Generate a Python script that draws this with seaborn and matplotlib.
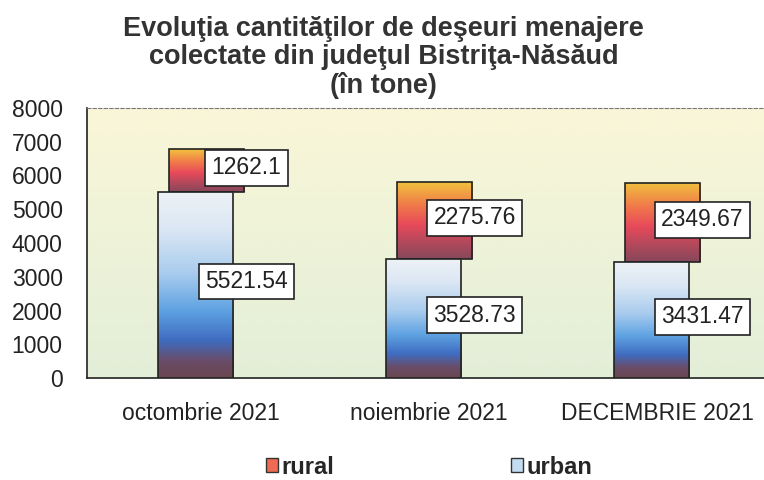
import numpy as np
import pandas as pd
import seaborn as sns
import matplotlib.pyplot as plt
from matplotlib.colors import LinearSegmentedColormap
from matplotlib.patches import Patch

months = ['octombrie 2021', 'noiembrie 2021', 'DECEMBRIE 2021']
urban = [5521.54, 3528.73, 3431.47]
rural = [1262.1, 2275.76, 2349.67]
rural_labels = ['1262.1', '2275.76', '2349.67']
urban_labels = ['5521.54', '3528.73', '3431.47']
yticks = [0, 1000, 2000, 3000, 4000, 5000, 6000, 7000, 8000]

df = pd.DataFrame({'luna': months, 'urban': urban, 'rural': rural})
df['total'] = df['urban'] + df['rural']

sns.set_style('white')
plt.rcParams['font.family'] = ['Liberation Sans', 'DejaVu Sans']

# gradient maps, bottom -> top
cmap_urban = LinearSegmentedColormap.from_list('urban', [
    (0.0, '#6a4650'), (0.09, '#6a4c68'), (0.2, '#3f6cc0'), (0.36, '#5ea2e2'),
    (0.56, '#a9ccee'), (0.8, '#dbe7f4'), (1.0, '#eef2f6')])
cmap_rural = LinearSegmentedColormap.from_list('rural', [
    (0.0, '#86485a'), (0.2, '#b0485c'), (0.45, '#e84a5a'), (0.7, '#f07a4a'),
    (1.0, '#f2c23e')])
cmap_bg = LinearSegmentedColormap.from_list('bg', ['#e3eed8', '#eef3d8', '#faf6d8'])

fig = plt.figure(figsize=(7.64, 4.8), dpi=100)
ax = fig.add_axes([87 / 764, 0.2125, 684 / 764, 0.5625])

bw = 0.33
shift = 0.023

# rural first (sits behind), then urban in front
sns.barplot(x=df['luna'], y=df['total'], width=bw, ax=ax, color='#e84a5a',
            edgecolor='#222222', linewidth=1.2, zorder=2)
sns.barplot(x=df['luna'], y=df['urban'], width=bw, ax=ax, color='#9cc8ee',
            edgecolor='#222222', linewidth=1.2, zorder=3)

patches = list(ax.patches)
rural_bars = patches[:3]
urban_bars = patches[3:6]

for i, p in enumerate(rural_bars):
    p.set_x(p.get_x() + shift)
    p.set_y(df['urban'][i])
    p.set_height(df['rural'][i])
for p in urban_bars:
    p.set_x(p.get_x() - shift)

grad = np.linspace(0, 1, 256).reshape(-1, 1)


def fill_gradient(p, cmap, z):
    x0, y0 = p.get_x(), p.get_y()
    im = ax.imshow(grad, cmap=cmap, aspect='auto', origin='lower',
                   extent=[x0, x0 + p.get_width(), y0, y0 + p.get_height()],
                   zorder=z - 0.1, interpolation='bicubic')
    im.set_clip_path(p)
    p.set_facecolor('none')
    p.set_zorder(z)


for p in rural_bars:
    fill_gradient(p, cmap_rural, 2)
for p in urban_bars:
    fill_gradient(p, cmap_urban, 3)

ax.imshow(grad, cmap=cmap_bg, aspect='auto', origin='lower',
          extent=[-0.5, 2.5, 0, 8000], zorder=0)
ax.set_xlim(-0.5, 2.5)
ax.set_ylim(0, 8000)

box = dict(boxstyle='square,pad=0.28', facecolor='white', edgecolor='#222222', linewidth=1.2)
for i in range(3):
    ax.text(i + 0.2, df['urban'][i] + df['rural'][i] / 2 + 80, rural_labels[i],
            ha='center', va='center', fontsize=16.5, color='#222222', bbox=box, zorder=5)
    ax.text(i + 0.2, df['urban'][i] / 2 + 100, urban_labels[i],
            ha='center', va='center', fontsize=16.5, color='#222222', bbox=box, zorder=5)

ax.set_yticks(yticks)
ax.set_yticklabels([str(v) for v in yticks], fontsize=16.5, color='#222222')
ax.set_xticks(range(3))
ax.set_xticklabels(months, fontsize=16.5, color='#222222')
ax.set_xticks([0.5, 1.5], minor=True)
ax.tick_params(axis='x', which='major', length=0, pad=17)
ax.tick_params(axis='x', which='minor', length=6, direction='out', color='#222222')
ax.tick_params(axis='y', length=6.5, direction='out', color='#222222', pad=11)
ax.set_xlabel('')
ax.set_ylabel('')

for side in ['left', 'bottom']:
    ax.spines[side].set_color('#222222')
    ax.spines[side].set_linewidth(1.2)
ax.spines['top'].set_color('#777777')
ax.spines['top'].set_linestyle((0, (3, 2)))
ax.spines['top'].set_linewidth(0.8)
ax.spines['right'].set_visible(False)

fig.text(0.502, 1 - 16 / 480,
         'Evoluţia cantităţilor de deşeuri menajere\ncolectate din judeţul Bistriţa-Năsăud\n(în tone)',
         ha='center', va='top', fontsize=19.5, fontweight='bold', color='#333333',
         linespacing=1.1)

handles = [Patch(facecolor='#ee6a52', edgecolor='#333333'),
           Patch(facecolor='#c4dcf2', edgecolor='#333333')]
fig.legend(handles, ['rural', 'urban'], loc='center', bbox_to_anchor=(0.5615, 0.027),
           ncol=2, frameon=False, columnspacing=7.5, handlelength=0.5, handleheight=0.5,
           handletextpad=0.15, borderpad=0.1, prop={'weight': 'bold', 'size': 17})

fig.savefig('out.png', dpi=100)
